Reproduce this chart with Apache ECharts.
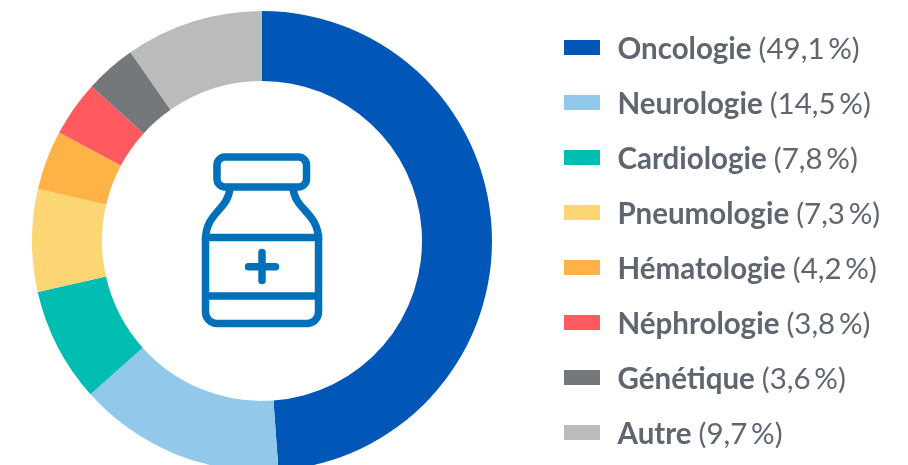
<!DOCTYPE html>
<html>
<head>
<meta charset="utf-8">
<style>
  html, body { margin: 0; padding: 0; background: #fff; overflow: hidden; }
  #chart { width: 908px; height: 465px; }
</style>
<script src="https://cdn.jsdelivr.net/npm/echarts@6/dist/echarts.min.js"></script>
</head>
<body>
<div id="chart"></div>
<script>
// Specialties and the percentages printed in the legend
const categories = ['Oncologie', 'Neurologie', 'Cardiologie', 'Pneumologie', 'Hématologie', 'Néphrologie', 'Génétique', 'Autre'];
const shares = [49.1, 14.5, 7.8, 7.3, 4.2, 3.8, 3.6, 9.7];
// Slice sizes as measured on the ring, they differ a little from the printed numbers
const sliceValues = [48.86, 14.53, 8.06, 7.19, 4.17, 3.92, 3.58, 9.69];
const colors = ['#0057B8', '#92C8E9', '#00BDB2', '#FCD672', '#FFB347', '#FF5A5F', '#75787B', '#BABBBB'];

const textColor = '#5F6670';
const iconColor = '#0070BA';

const chart = echarts.init(document.getElementById('chart'), null, { renderer: 'canvas' });

const pieData = categories.map((name, i) => ({ name: name, value: sliceValues[i] }));

const iconStroke = { fill: 'none', stroke: iconColor, lineWidth: 7.5 };

const option = {
    animation: false,
    backgroundColor: '#fff',
    color: colors,
    legend: {
        orient: 'vertical',
        left: 564,
        top: 34,
        padding: 0,
        itemWidth: 36,
        itemHeight: 15,
        itemGap: 25,
        selectedMode: false,
        icon: 'rect',
        data: categories,
        formatter: function(name) {
            const share = shares[categories.indexOf(name)];
            return '{b|' + name + '}{r|(' + share.toFixed(1).replace('.', ',') + '\u2009%)}';
        },
        textStyle: {
            padding: [3, 0, 0, 12.5],
            rich: {
                b: { fontFamily: 'Lato', fontWeight: 700, fontSize: 29.5, color: textColor, lineHeight: 30 },
                r: { fontFamily: 'Lato', fontWeight: 400, fontSize: 29.5, color: textColor, lineHeight: 30, padding: [0, 0, 0, 7] }
            }
        }
    },
    series: [{
        type: 'pie',
        center: [262, 241],
        radius: [160, 230],
        startAngle: 90,
        clockwise: true,
        silent: true,
        label: { show: false },
        labelLine: { show: false },
        data: pieData
    }],
    // Bottle pictogram in the middle of the ring
    graphic: [{
        type: 'group',
        silent: true,
        children: [
            { type: 'rect', shape: { x: 217, y: 157, width: 89.5, height: 30, r: 8 }, style: iconStroke },
            { type: 'rect', shape: { x: 205.5, y: 237.5, width: 113, height: 86, r: [0, 0, 11.5, 11.5] }, style: iconStroke },
            { type: 'bezierCurve', shape: { x1: 230, y1: 187, cpx1: 229, cpy1: 210, cpx2: 205.5, cpy2: 212, x2: 205.5, y2: 240 }, style: iconStroke },
            { type: 'bezierCurve', shape: { x1: 293, y1: 187, cpx1: 294, cpy1: 210, cpx2: 318.5, cpy2: 212, x2: 318.5, y2: 240 }, style: iconStroke },
            { type: 'line', shape: { x1: 205.5, y1: 296, x2: 318.5, y2: 296 }, style: { stroke: iconColor, lineWidth: 7.5 } },
            { type: 'line', shape: { x1: 248.5, y1: 266.7, x2: 275.5, y2: 266.7 }, style: { stroke: iconColor, lineWidth: 7.5, lineCap: 'round' } },
            { type: 'line', shape: { x1: 262, y1: 252.5, x2: 262, y2: 280.5 }, style: { stroke: iconColor, lineWidth: 7.5, lineCap: 'round' } }
        ]
    }]
};

chart.setOption(option);
</script>
</body>
</html>
